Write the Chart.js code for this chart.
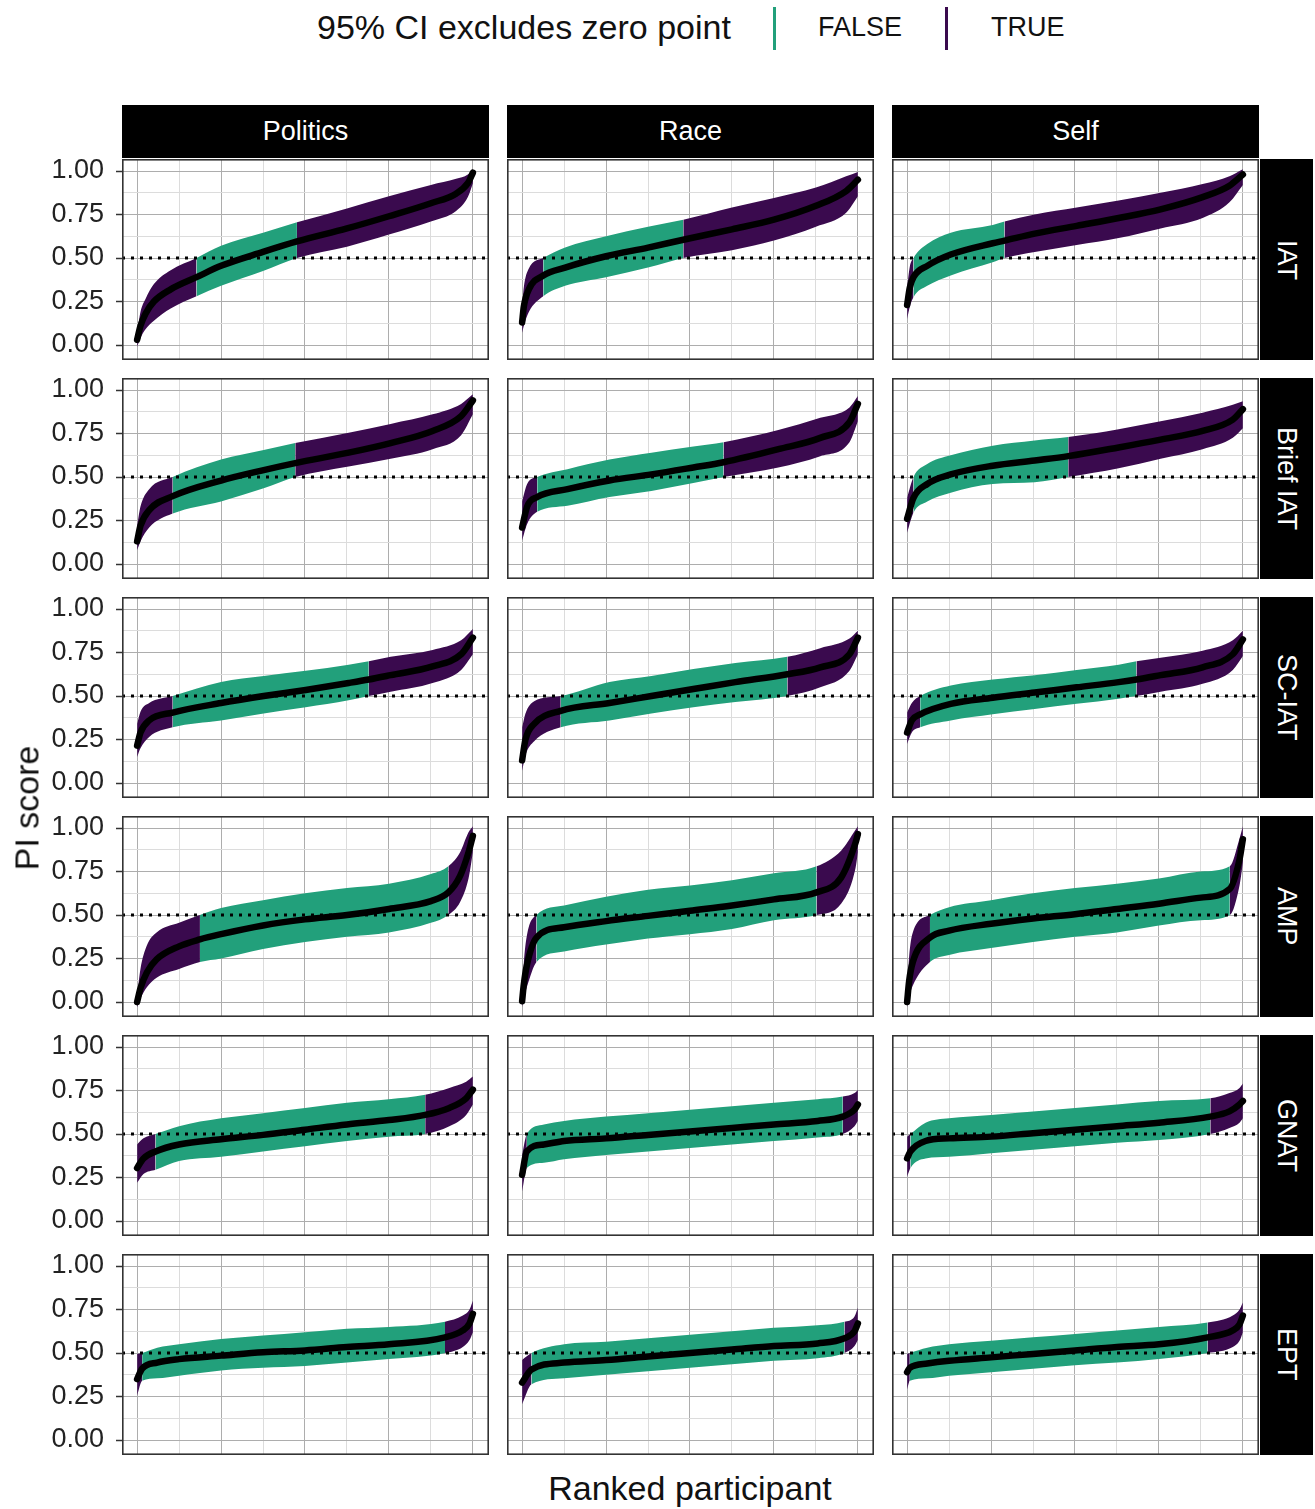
<!DOCTYPE html>
<html>
<head>
<meta charset="utf-8">
<script src="https://cdn.jsdelivr.net/npm/chart.js@4.4.1/dist/chart.umd.min.js"></script>
<style>
  body { margin: 0; background: #fff; font-family: "Liberation Sans", Arial, sans-serif; }
  #page { position: relative; width: 1315px; height: 1509px; overflow: hidden; background: #fff; }
  .panel { position: absolute; }
  .strip { position: absolute; background: #000; color: #fff; font-size: 27px;
           display: flex; align-items: center; justify-content: center; }
  .strip.side span { writing-mode: vertical-rl; white-space: nowrap; }
  .txt { position: absolute; color: #111; white-space: nowrap; }
  .key { position: absolute; width: 2.5px; }
</style>
</head>
<body>
<div id="page"></div>
<script>
// facets
const DOMAINS = ['Politics', 'Race', 'Self'];
const MEASURES = ['IAT', 'Brief IAT', 'SC-IAT', 'AMP', 'GNAT', 'EPT'];
const ZERO_POINT = 0.5;

// each row: [rank, estimate, lower 95% CI, upper 95% CI]
const iatPolitics = [[0,0.03,-0.01,0.07],[10,0.11,0.04,0.19],[25,0.18,0.09,0.265],[50,0.25,0.14,0.35],[100,0.32,0.21,0.43],
  [177,0.39,0.28,0.50],[250,0.455,0.34,0.57],[375,0.535,0.425,0.645],[476,0.595,0.50,0.705],
  [625,0.67,0.565,0.785],[750,0.74,0.635,0.855],[875,0.815,0.71,0.92],[950,0.87,0.77,0.955],[985,0.93,0.85,0.98],[1000,0.99,0.93,1.01]];
const iatRace = [[0,0.13,0.07,0.22],[5,0.22,0.11,0.33],[20,0.32,0.19,0.44],[63,0.40,0.28,0.50],[128,0.445,0.34,0.56],
  [250,0.51,0.39,0.625],[375,0.56,0.445,0.68],[480,0.605,0.50,0.72],[625,0.665,0.545,0.79],
  [750,0.72,0.60,0.845],[875,0.80,0.68,0.905],[965,0.885,0.76,0.97],[1000,0.95,0.855,0.995]];
const iatSelf = [[0,0.23,0.15,0.33],[8,0.33,0.22,0.45],[19,0.39,0.275,0.50],[60,0.455,0.34,0.58],[130,0.52,0.40,0.645],
  [255,0.585,0.475,0.69],[290,0.60,0.50,0.71],[380,0.64,0.535,0.75],[505,0.685,0.575,0.79],[630,0.73,0.615,0.83],
  [755,0.78,0.67,0.875],[880,0.85,0.73,0.925],[960,0.915,0.82,0.97],[1000,0.98,0.92,1.01]];

const briefPolitics = [[0,0.13,0.08,0.22],[10,0.22,0.13,0.33],[36,0.31,0.21,0.43],[106,0.39,0.29,0.50],[250,0.48,0.36,0.60],
  [377,0.54,0.435,0.655],[471,0.58,0.50,0.695],[630,0.64,0.56,0.755],[755,0.695,0.605,0.805],
  [880,0.765,0.66,0.86],[965,0.85,0.74,0.92],[1000,0.94,0.86,0.975]];
const briefRace = [[0,0.21,0.135,0.36],[15,0.33,0.23,0.46],[45,0.385,0.30,0.50],[135,0.43,0.335,0.545],[260,0.48,0.385,0.60],
  [385,0.515,0.42,0.64],[510,0.555,0.465,0.675],[600,0.585,0.50,0.70],[763,0.66,0.555,0.77],
  [888,0.725,0.62,0.84],[975,0.815,0.70,0.90],[1000,0.92,0.82,0.965]];
const briefSelf = [[0,0.26,0.18,0.38],[19,0.38,0.295,0.50],[60,0.46,0.36,0.575],[130,0.515,0.41,0.625],[255,0.565,0.46,0.68],
  [380,0.595,0.47,0.71],[480,0.62,0.50,0.73],[630,0.67,0.55,0.775],[755,0.715,0.605,0.82],
  [880,0.765,0.66,0.87],[970,0.83,0.725,0.915],[1000,0.89,0.78,0.935]];

const scPolitics = [[0,0.215,0.15,0.34],[10,0.29,0.20,0.41],[36,0.36,0.265,0.46],[106,0.405,0.32,0.50],[250,0.46,0.36,0.58],
  [377,0.50,0.40,0.615],[502,0.535,0.435,0.645],[630,0.575,0.475,0.68],[690,0.595,0.50,0.70],[755,0.62,0.525,0.725],
  [880,0.67,0.575,0.765],[965,0.74,0.65,0.82],[1000,0.835,0.74,0.885]];
const scRace = [[0,0.13,0.07,0.32],[10,0.25,0.16,0.40],[36,0.34,0.24,0.47],[115,0.415,0.32,0.50],[260,0.46,0.36,0.58],
  [385,0.50,0.40,0.615],[510,0.54,0.435,0.655],[635,0.58,0.465,0.69],[790,0.625,0.50,0.725],[888,0.665,0.55,0.775],
  [975,0.74,0.645,0.83],[1000,0.835,0.74,0.875]];
const scSelf = [[0,0.29,0.225,0.405],[14,0.36,0.29,0.46],[39,0.395,0.32,0.50],[130,0.455,0.36,0.56],[255,0.49,0.395,0.595],
  [380,0.52,0.425,0.62],[505,0.55,0.455,0.65],[630,0.58,0.485,0.68],[683,0.595,0.50,0.70],[755,0.62,0.525,0.72],
  [880,0.665,0.57,0.76],[970,0.74,0.65,0.82],[1000,0.825,0.73,0.875]];

const ampPolitics = [[0,0.00,-0.03,0.04],[10,0.08,0.02,0.19],[29,0.17,0.085,0.325],[58,0.245,0.14,0.40],[125,0.32,0.19,0.455],
  [187,0.36,0.23,0.50],[250,0.39,0.25,0.54],[375,0.44,0.305,0.585],[500,0.475,0.345,0.625],[625,0.50,0.375,0.655],
  [750,0.535,0.40,0.68],[875,0.58,0.455,0.735],[927,0.63,0.50,0.78],[962,0.725,0.575,0.86],[987,0.86,0.71,0.975],[1000,0.955,0.86,1.01]];
const ampRace = [[0,0.005,-0.03,0.04],[5,0.10,0.02,0.22],[14,0.21,0.085,0.38],[43,0.37,0.23,0.50],[125,0.43,0.29,0.555],
  [250,0.465,0.33,0.605],[375,0.495,0.365,0.645],[500,0.525,0.39,0.67],[625,0.555,0.42,0.70],[750,0.59,0.47,0.74],
  [877,0.63,0.50,0.78],[950,0.715,0.565,0.87],[993,0.915,0.77,0.99],[1000,0.965,0.86,1.01]];
const ampSelf = [[0,0.00,-0.03,0.06],[6,0.12,0.03,0.26],[17,0.23,0.095,0.40],[68,0.37,0.23,0.50],[125,0.41,0.27,0.545],
  [250,0.45,0.31,0.585],[375,0.48,0.345,0.625],[500,0.505,0.375,0.655],[625,0.535,0.40,0.68],[750,0.565,0.44,0.71],
  [875,0.60,0.47,0.75],[961,0.65,0.50,0.78],[990,0.82,0.67,0.94],[1000,0.935,0.80,1.01]];

const gnatPolitics = [[0,0.305,0.22,0.44],[19,0.36,0.27,0.475],[55,0.40,0.295,0.50],[125,0.44,0.345,0.545],[250,0.47,0.37,0.59],
  [375,0.495,0.40,0.62],[500,0.525,0.43,0.65],[625,0.555,0.46,0.68],[750,0.58,0.485,0.70],[858,0.61,0.50,0.725],
  [930,0.65,0.545,0.765],[980,0.705,0.61,0.80],[1000,0.755,0.67,0.83]];
const gnatRace = [[0,0.265,0.17,0.38],[14,0.40,0.305,0.50],[65,0.44,0.335,0.555],[125,0.46,0.355,0.575],[250,0.475,0.38,0.60],
  [375,0.495,0.40,0.62],[500,0.515,0.42,0.64],[625,0.535,0.44,0.66],[750,0.555,0.46,0.68],[880,0.575,0.48,0.70],
  [955,0.60,0.50,0.715],[990,0.64,0.545,0.735],[1000,0.67,0.575,0.755]];
const gnatSelf = [[0,0.36,0.255,0.485],[10,0.40,0.305,0.50],[55,0.46,0.36,0.565],[125,0.475,0.37,0.59],[250,0.485,0.39,0.61],
  [375,0.505,0.41,0.63],[500,0.525,0.43,0.65],[625,0.545,0.45,0.67],[750,0.565,0.465,0.69],[903,0.60,0.50,0.705],
  [960,0.63,0.535,0.735],[990,0.67,0.565,0.765],[1000,0.69,0.59,0.79]];

const eptPolitics = [[0,0.35,0.255,0.495],[15,0.41,0.34,0.50],[60,0.445,0.355,0.53],[125,0.465,0.37,0.55],[250,0.485,0.40,0.58],
  [375,0.505,0.415,0.60],[500,0.515,0.425,0.62],[625,0.535,0.445,0.64],[750,0.55,0.465,0.65],[917,0.59,0.50,0.68],
  [970,0.63,0.535,0.715],[990,0.67,0.575,0.75],[1000,0.725,0.62,0.80]];
const eptRace = [[0,0.33,0.205,0.46],[28,0.405,0.32,0.50],[125,0.445,0.355,0.55],[250,0.46,0.375,0.565],[375,0.48,0.395,0.585],
  [500,0.50,0.415,0.605],[625,0.52,0.435,0.625],[750,0.54,0.455,0.645],[880,0.555,0.47,0.66],[960,0.585,0.50,0.68],
  [990,0.625,0.54,0.71],[1000,0.67,0.575,0.76]];
const eptSelf = [[0,0.39,0.29,0.495],[8,0.415,0.34,0.50],[60,0.44,0.355,0.53],[125,0.455,0.37,0.55],[250,0.475,0.39,0.57],
  [375,0.495,0.41,0.59],[500,0.515,0.43,0.61],[625,0.535,0.445,0.63],[750,0.55,0.465,0.65],[895,0.59,0.50,0.675],
  [970,0.63,0.535,0.715],[990,0.665,0.57,0.75],[1000,0.715,0.62,0.79]];

const PANELS = [
  [iatPolitics, iatRace, iatSelf],
  [briefPolitics, briefRace, briefSelf],
  [scPolitics, scRace, scSelf],
  [ampPolitics, ampRace, ampSelf],
  [gnatPolitics, gnatRace, gnatSelf],
  [eptPolitics, eptRace, eptSelf]
];

// look
const COL_FALSE = '#22a07b';
const COL_TRUE = '#3a0a4e';
const GRID_MAJOR = '#adadad';
const GRID_MINOR = '#dcdcdc';
const FONT = '"Liberation Sans", Arial, sans-serif';

// layout (px)
const COL_LEFT = [122, 507, 892];
const ROW_TOP = [159, 378, 597, 816, 1035, 1254];
const PANEL_W = 367, PANEL_H = 201, AXIS_W = 82;
const X_MIN = -45, X_MAX = 1048, Y_MIN = -0.086, Y_MAX = 1.069;

const page = document.getElementById('page');

function addText(cls, text, css) {
  const d = document.createElement('div');
  d.className = cls;
  if (cls.includes('side')) {
    const s = document.createElement('span');
    s.textContent = text;
    d.appendChild(s);
  } else {
    d.textContent = text;
  }
  Object.assign(d.style, css);
  page.appendChild(d);
  return d;
}

const isMajorY = v => Math.abs(v * 4 - Math.round(v * 4)) < 1e-6;
const isMajorX = v => v % 250 === 0;

const frame = {
  id: 'frame',
  afterDraw(chart) {
    const { ctx, chartArea: a } = chart;
    ctx.save();
    ctx.strokeStyle = '#333';
    ctx.lineWidth = 1.6;
    ctx.strokeRect(a.left + 0.8, a.top + 0.8, a.right - a.left - 1.6, a.bottom - a.top - 1.6);
    ctx.restore();
  }
};

function makePanel(table, row, col) {
  const axisW = col === 0 ? AXIS_W : 0;
  const wrap = document.createElement('div');
  wrap.className = 'panel';
  wrap.style.left = (COL_LEFT[col] - axisW) + 'px';
  wrap.style.top = ROW_TOP[row] + 'px';
  const canvas = document.createElement('canvas');
  canvas.width = PANEL_W + axisW;
  canvas.height = PANEL_H;
  wrap.appendChild(canvas);
  page.appendChild(wrap);

  const excludes = i => table[i][2] > ZERO_POINT || table[i][3] < ZERO_POINT;
  const bandColor = c => (excludes(c.p0DataIndex) || excludes(c.p1DataIndex)) ? COL_TRUE : COL_FALSE;

  new Chart(canvas, {
    type: 'line',
    data: {
      datasets: [
        { label: 'estimate', data: table.map(r => ({ x: r[0], y: r[1] })),
          borderColor: '#000', borderWidth: 6.5, borderCapStyle: 'round', pointRadius: 0,
          cubicInterpolationMode: 'monotone' },
        { label: 'zero point', data: [{ x: X_MIN, y: ZERO_POINT }, { x: X_MAX, y: ZERO_POINT }],
          borderColor: '#000', borderWidth: 3, borderDash: [3, 6], borderCapStyle: 'butt', pointRadius: 0 },
        { label: 'upper', data: table.map(r => ({ x: r[0], y: r[3] })),
          borderWidth: 0, pointRadius: 0, cubicInterpolationMode: 'monotone',
          fill: '+1', backgroundColor: COL_FALSE, segment: { backgroundColor: bandColor } },
        { label: 'lower', data: table.map(r => ({ x: r[0], y: r[2] })),
          borderWidth: 0, pointRadius: 0, cubicInterpolationMode: 'monotone', fill: false }
      ]
    },
    options: {
      responsive: false,
      animation: false,
      devicePixelRatio: 1,
      layout: { padding: 0 },
      plugins: { legend: { display: false }, tooltip: { enabled: false } },
      scales: {
        x: {
          type: 'linear', min: X_MIN, max: X_MAX,
          ticks: { display: false, stepSize: 125, includeBounds: false },
          grid: { color: c => isMajorX(c.tick.value) ? GRID_MAJOR : GRID_MINOR, drawTicks: false, lineWidth: 1 },
          border: { display: false },
          afterFit: s => { s.height = 0; s.paddingLeft = 0; s.paddingRight = 0; }
        },
        y: {
          type: 'linear', min: Y_MIN, max: Y_MAX,
          ticks: {
            display: col === 0, stepSize: 0.125, includeBounds: false, autoSkip: false,
            padding: 12, color: '#222', font: { family: FONT, size: 27 },
            callback: v => isMajorY(v) ? v.toFixed(2) : ''
          },
          grid: {
            color: c => isMajorY(c.tick.value) ? GRID_MAJOR : GRID_MINOR, lineWidth: 1,
            drawTicks: col === 0, tickLength: 6, tickWidth: 1.5,
            tickColor: c => isMajorY(c.tick.value) ? '#333' : 'rgba(0,0,0,0)'
          },
          border: { display: false },
          afterFit: s => { s.width = axisW; s.paddingTop = 0; s.paddingBottom = 0; }
        }
      }
    },
    plugins: [frame]
  });
}

PANELS.forEach((rowTables, r) => rowTables.forEach((t, c) => makePanel(t, r, c)));

// facet strips
DOMAINS.forEach((d, c) => addText('strip', d,
  { left: COL_LEFT[c] + 'px', top: '105px', width: PANEL_W + 'px', height: '53px' }));
MEASURES.forEach((m, r) => addText('strip side', m,
  { left: '1260px', top: ROW_TOP[r] + 'px', width: '53px', height: PANEL_H + 'px' }));

// axis titles
addText('txt', 'PI score', { left: '27px', top: '808px', fontSize: '34px',
  transform: 'translate(-50%, -50%) rotate(-90deg)' });
addText('txt', 'Ranked participant', { left: '690px', top: '1488px', fontSize: '34px',
  transform: 'translate(-50%, -50%)' });

// legend
addText('txt', '95% CI excludes zero point', { left: '317px', top: '27px', fontSize: '34px', transform: 'translateY(-50%)' });
addText('key', '', { left: '773px', top: '7px', height: '43px', background: COL_FALSE });
addText('txt', 'FALSE', { left: '818px', top: '27px', fontSize: '27px', transform: 'translateY(-50%)' });
addText('key', '', { left: '945px', top: '7px', height: '43px', background: COL_TRUE });
addText('txt', 'TRUE', { left: '991px', top: '27px', fontSize: '27px', transform: 'translateY(-50%)' });
</script>
</body>
</html>
